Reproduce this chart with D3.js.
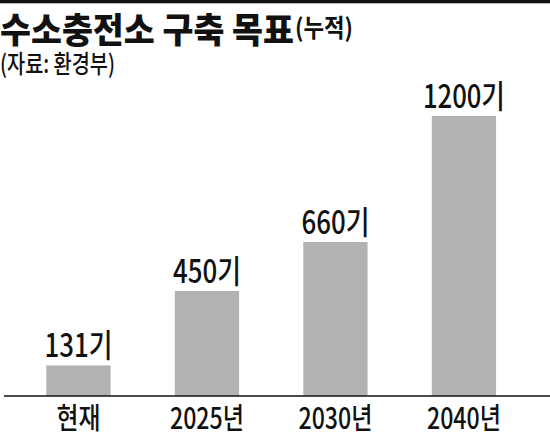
<!DOCTYPE html>
<html><head><meta charset="utf-8">
<script src="https://cdn.jsdelivr.net/npm/d3@7"></script>
<style>html,body{margin:0;padding:0;background:#fff;}svg{display:block;}</style>
</head><body>
<script>
const categories = ["현재", "2025년", "2030년", "2040년"];
const values = [131, 450, 660, 1200];
const valueLabels = ["131기", "450기", "660기", "1200기"];
const title = "수소충전소 구축 목표";
const titleSub = "(누적)";
const source = "(자료: 환경부)";

const W = 550, H = 433;
const svg = d3.select("body").append("svg").attr("width", W).attr("height", H);
const font = "'Noto Sans CJK KR', 'Noto Sans', sans-serif";

svg.append("rect").attr("x", 0).attr("y", 0).attr("width", W).attr("height", 3.3).attr("fill", "#111");

svg.append("text").attr("x", 0).attr("y", 43).attr("font-family", font).attr("font-weight", 900)
  .attr("font-size", 35).attr("fill", "#111").attr("textLength", 294).attr("lengthAdjust", "spacingAndGlyphs").text(title);
svg.append("text").attr("x", 295).attr("y", 37).attr("font-family", font).attr("font-weight", 700)
  .attr("font-size", 25).attr("fill", "#111").attr("textLength", 58).attr("lengthAdjust", "spacingAndGlyphs").text(titleSub);
svg.append("text").attr("x", 0).attr("y", 73).attr("font-family", font).attr("font-weight", 500)
  .attr("font-size", 25).attr("fill", "#111").attr("textLength", 115).attr("lengthAdjust", "spacingAndGlyphs").text(source);

const x = d3.scaleBand().domain(categories).range([14.2, 528.2]).paddingInner(0.5).paddingOuter(0.25);
const y = d3.scaleLinear().domain([0, 1200]).range([396, 116]);

svg.selectAll("rect.bar").data(values).join("rect").attr("class", "bar")
  .attr("x", (d, i) => x(categories[i])).attr("width", x.bandwidth())
  .attr("y", d => y(d)).attr("height", d => y(0) - y(d)).attr("fill", "#b2b2b2");

svg.selectAll("text.val").data(values).join("text").attr("class", "val")
  .attr("x", (d, i) => x(categories[i]) + x.bandwidth() / 2)
  .attr("y", d => y(d) - 8.5)
  .attr("text-anchor", "middle").attr("font-family", font).attr("font-weight", 500)
  .attr("font-size", 32).attr("fill", "#111")
  .attr("textLength", (d, i) => valueLabels[i].length === 5 ? 82 : 68)
  .attr("lengthAdjust", "spacingAndGlyphs")
  .text((d, i) => valueLabels[i]);

const axis = d3.axisBottom(x).tickSize(0).tickPadding(0);
const g = svg.append("g").attr("transform", "translate(0,396)").call(axis);
g.select(".domain").remove();
svg.append("line").attr("x1", 4).attr("x2", W).attr("y1", 396).attr("y2", 396).attr("stroke", "#111").attr("stroke-width", 1.5);
g.selectAll(".tick text").attr("y", 33).attr("dy", null).attr("font-family", font).attr("font-weight", 500)
  .attr("font-size", 29).attr("fill", "#111")
  .attr("textLength", d => d.length === 2 ? 44 : 74)
  .attr("lengthAdjust", "spacingAndGlyphs");
</script>
</body></html>
